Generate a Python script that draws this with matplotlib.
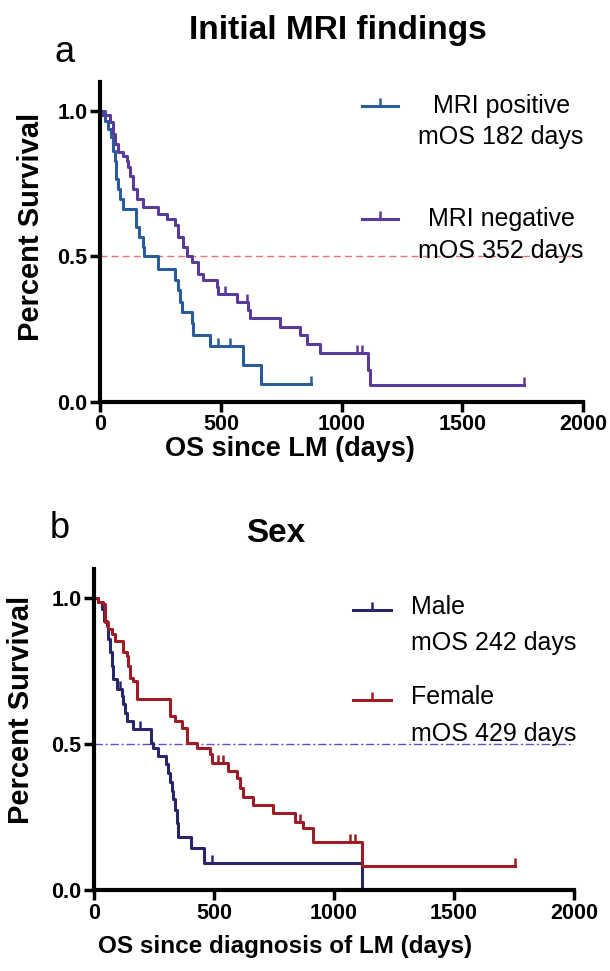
import numpy as np
import matplotlib
matplotlib.use("Agg")
import matplotlib.pyplot as plt
from matplotlib.lines import Line2D
from matplotlib.legend_handler import HandlerLine2D

plt.rcParams['font.family'] = ['Liberation Sans', 'DejaVu Sans']

# --- panel a: initial MRI findings ---
pos_times = [20, 35, 45, 52, 60, 68, 75, 84, 95, 150, 163, 176, 183, 242, 310, 323, 332, 338,
             380, 386, 455, 592, 667]
pos_surv = [0.966, 0.937, 0.909, 0.863, 0.829, 0.767, 0.732, 0.698, 0.663, 0.60, 0.566, 0.532,
            0.50, 0.458, 0.418, 0.384, 0.344, 0.309, 0.27, 0.229, 0.192, 0.127, 0.063]
pos_end = 873
pos_cens = [489, 538, 873]

neg_times = [10, 41, 55, 62, 76, 97, 110, 117, 124, 138, 152, 179, 241, 276, 310, 324, 345, 359,
             380, 407, 428, 483, 490, 566, 614, 621, 745, 828, 856, 911, 1111, 1118]
neg_surv = [0.985, 0.96, 0.92, 0.886, 0.857, 0.846, 0.829, 0.806, 0.777, 0.732, 0.697, 0.669,
            0.646, 0.629, 0.606, 0.566, 0.532, 0.50, 0.48, 0.44, 0.418, 0.395, 0.372, 0.344,
            0.315, 0.287, 0.258, 0.229, 0.2, 0.167, 0.11, 0.058]
neg_end = 1755
neg_cens = [518, 607, 1063, 1083, 1755]

# --- panel b: sex ---
male_times = [18, 32, 40, 53, 60, 67, 74, 80, 95, 115, 122, 129, 136, 164, 236, 247, 268, 300,
              310, 318, 325, 330, 337, 344, 351, 405, 460, 1118]
male_surv = [0.985, 0.962, 0.922, 0.904, 0.859, 0.813, 0.767, 0.722, 0.687, 0.664, 0.636, 0.607,
             0.578, 0.55, 0.504, 0.487, 0.458, 0.43, 0.40, 0.37, 0.34, 0.31, 0.275, 0.23, 0.183,
             0.143, 0.091, 0.0]
male_end = 1118
male_cens = [108, 192, 490]

fem_times = [18, 39, 46, 60, 74, 88, 122, 136, 143, 150, 164, 178, 317, 338, 365, 386, 428, 483,
             490, 560, 595, 608, 622, 664, 747, 837, 872, 914, 1115]
fem_surv = [0.985, 0.979, 0.916, 0.893, 0.876, 0.853, 0.813, 0.802, 0.767, 0.727, 0.716, 0.653,
            0.595, 0.578, 0.555, 0.504, 0.487, 0.464, 0.435, 0.406, 0.383, 0.349, 0.32, 0.292,
            0.263, 0.234, 0.211, 0.166, 0.083]
fem_end = 1755
fem_cens = [518, 539, 858, 1067, 1087, 1755]

xticks = [0, 500, 1000, 1500, 2000]
yticks = [0.0, 0.5, 1.0]

c_pos = '#2a5b9c'
c_neg = '#5a3b9b'
c_male = '#27266a'
c_fem = '#9e1d25'


class FirstLineHandler(HandlerLine2D):
    # legend handle next to the first line of a two-line label
    def __init__(self, shift, **kw):
        super().__init__(**kw)
        self.shift = shift

    def create_artists(self, legend, orig_handle, xdescent, ydescent, width, height, fontsize, trans):
        arts = super().create_artists(legend, orig_handle, xdescent, ydescent, width, height,
                                      fontsize, trans)
        for a in arts:
            a.set_ydata(np.asarray(a.get_ydata()) + self.shift * fontsize)
        return arts


def km(ax, times, surv, end, cens, color):
    t = np.r_[0, times, end]
    s = np.r_[1.0, surv, surv[-1]]
    ax.plot(t, s, drawstyle='steps-post', color=color, lw=2.2, clip_on=False)
    idx = np.searchsorted(t, cens, side='right') - 1
    ax.plot(cens, s[idx], ls='none', marker=2, ms=6, mew=1.8, color=color, clip_on=False)
    return Line2D([], [], color=color, lw=2.2, marker=2, ms=6, mew=1.8)


def style(ax):
    for sp in ['top', 'right']:
        ax.spines[sp].set_visible(False)
    for sp in ['left', 'bottom']:
        ax.spines[sp].set_linewidth(3)
        ax.spines[sp].set_capstyle('projecting')
    ax.set_xlim(0, 2000)
    ax.set_ylim(0, 1.1)
    ax.set_xticks(xticks)
    ax.set_yticks(yticks)
    ax.set_yticklabels(['%.1f' % v for v in yticks])
    ax.tick_params(direction='out', length=7, width=2.5, labelsize=15.5, pad=2)
    for lab in ax.get_xticklabels() + ax.get_yticklabels():
        lab.set_fontweight('bold')


fig = plt.figure(figsize=(6.10, 9.71), dpi=100)
ax1 = fig.add_axes([0.164, 0.586, 0.792, 0.330])
ax2 = fig.add_axes([0.154, 0.0834, 0.787, 0.331])

# panel a
ax1.axhline(0.5, color='#ef6f74', lw=1, dashes=(5, 3))
h_pos = km(ax1, pos_times, pos_surv, pos_end, pos_cens, c_pos)
h_neg = km(ax1, neg_times, neg_surv, neg_end, neg_cens, c_neg)
style(ax1)
ax1.set_ylabel('Percent Survival', fontsize=21, fontweight='bold')
ax1.set_xlabel('OS since LM (days)', fontsize=19.5, fontweight='bold')
ax1.yaxis.set_label_coords(-0.1136, 0.547)
ax1.xaxis.set_label_coords(0.393, -0.105)

ls_a = 1.41
leg1 = ax1.legend([h_pos, h_neg], ['MRI positive\nmOS 182 days', 'MRI negative\nmOS 352 days'],
                  loc='upper left', bbox_to_anchor=(0.5425, 0.9625), frameon=False,
                  fontsize=18, handlelength=1.45, handletextpad=0.8, labelspacing=2.3,
                  borderpad=0, borderaxespad=0,
                  handler_map={Line2D: FirstLineHandler(0.65)})
for t in leg1.get_texts():
    t.set_linespacing(ls_a)
    t.set_multialignment('center')

# panel b
ax2.axhline(0.5, color='#6a4fc4', lw=1, dashes=(6, 2, 1.5, 2))
h_m = km(ax2, male_times, male_surv, male_end, male_cens, c_male)
h_f = km(ax2, fem_times, fem_surv, fem_end, fem_cens, c_fem)
style(ax2)
ax2.set_ylabel('Percent Survival', fontsize=21, fontweight='bold')
ax2.set_xlabel('OS since diagnosis of LM (days)', fontsize=17.5, fontweight='bold')
ax2.yaxis.set_label_coords(-0.123, 0.56)
ax2.xaxis.set_label_coords(0.398, -0.14)

ls_b = 1.67
leg2 = ax2.legend([h_m, h_f], ['Male\nmOS 242 days', 'Female\nmOS 429 days'],
                  loc='upper left', bbox_to_anchor=(0.54, 0.919), frameon=False,
                  fontsize=18, handlelength=1.5, handletextpad=0.8, labelspacing=1.2,
                  borderpad=0, borderaxespad=0,
                  handler_map={Line2D: FirstLineHandler(0.65)})
for t in leg2.get_texts():
    t.set_linespacing(ls_b)

fig.text(338 / 610, 1 - 31 / 971, 'Initial MRI findings', fontsize=24, fontweight='bold',
         ha='center', va='center')
fig.text(276 / 610, 1 - 533 / 971, 'Sex', fontsize=24, fontweight='bold', ha='center', va='center')
fig.text(55 / 610, 1 - 53 / 971, 'a', fontsize=26, ha='left', va='center')
fig.text(50 / 610, 1 - 529 / 971, 'b', fontsize=26, ha='left', va='center')

fig.savefig('out.png', dpi=100)
